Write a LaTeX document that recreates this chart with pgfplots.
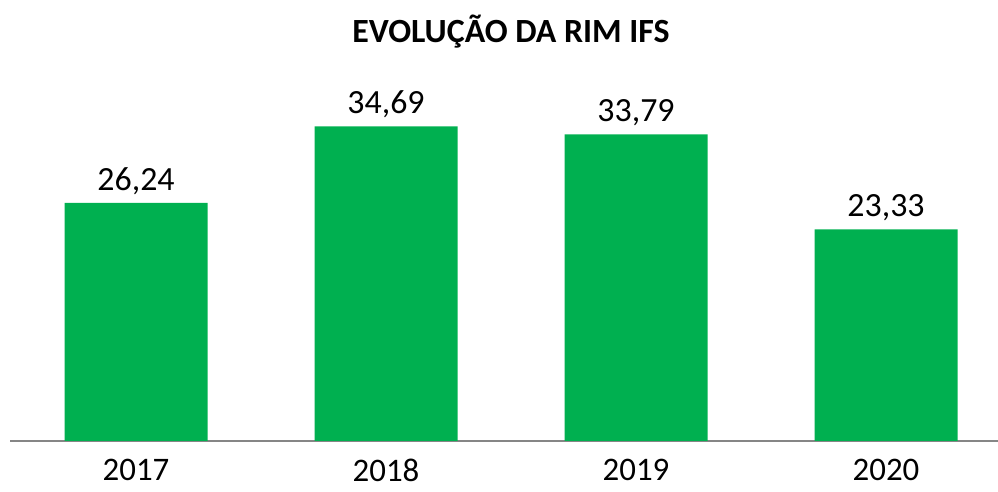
\documentclass[border=0pt]{standalone}
\usepackage{fontspec}
\setmainfont{Carlito}
\usepackage{pgfplots}
\pgfplotsset{compat=1.18}
\definecolor{bargreen}{HTML}{00B050}
\definecolor{axisgray}{HTML}{868686}

\begin{document}
\begin{tikzpicture}
\useasboundingbox (0,0) rectangle (998bp,492bp);
\begin{axis}[
    at={(10bp,51bp)}, anchor=south west,
    scale only axis,
    width=988bp, height=381bp,
    xmin=-0.504, xmax=3.448,
    ymin=0, ymax=42,
    axis x line*=bottom,
    axis y line=none,
    x axis line style={draw=axisgray, line width=1.2pt, -},
    xtick={0,1,2,3},
    xticklabels={2017,2018,2019,2020},
    major tick length=0pt,
    xticklabel style={font=\fontsize{33}{33}\selectfont, yshift=-17bp, inner sep=1bp},
    ybar, bar width=143bp,
    nodes near coords,
    /pgf/number format/assume math mode=true,
    /pgf/number format/.cd, use comma, fixed, fixed zerofill, precision=2, 1000 sep={},
    /pgfplots/.cd,
    nodes near coords style={font=\fontsize{34}{34}\selectfont, anchor=south, yshift=5bp},
]
\addplot[draw=none, fill=bargreen] coordinates {
  (0,26.24) (1,34.69) (2,33.79) (3,23.33)
};
\end{axis}
\node[font=\bfseries\fontsize{34}{34}\selectfont] at (511bp,460bp) {EVOLUÇÃO DA RIM IFS};
\end{tikzpicture}
\end{document}
